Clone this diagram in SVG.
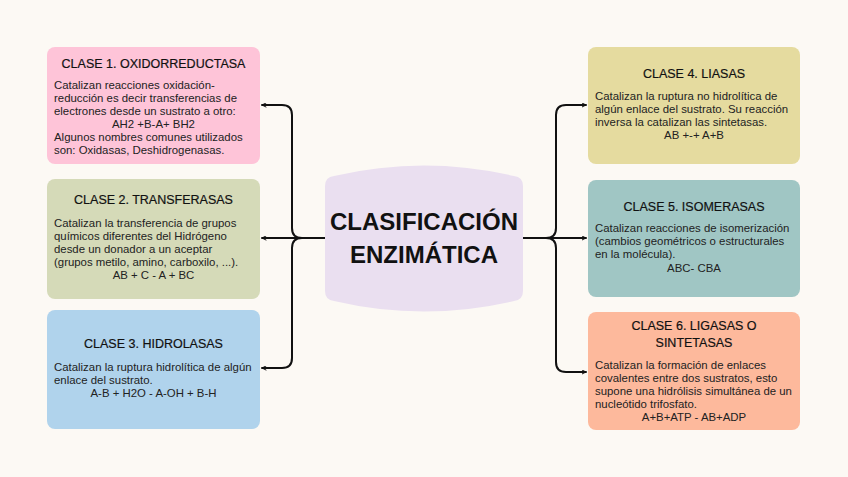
<svg xmlns="http://www.w3.org/2000/svg" width="848" height="477" viewBox="0 0 848 477">
<style>
.t{font-family:"Liberation Sans",Arial,sans-serif;font-size:12.5px;fill:#111;text-anchor:middle;stroke:#111;stroke-width:0.2}
.b{font-family:"Liberation Sans",Arial,sans-serif;font-size:11.4px;fill:#222}
.c{text-anchor:middle}
.h{font-family:"Liberation Sans",Arial,sans-serif;font-size:24px;font-weight:bold;fill:#111;text-anchor:middle}
.ln{fill:none;stroke:#111;stroke-width:2;stroke-linecap:round;stroke-linejoin:round}
</style>
<defs>
<marker id="ah" viewBox="0 0 10 10" refX="9" refY="5" markerWidth="5" markerHeight="5" orient="auto" markerUnits="userSpaceOnUse">
<path d="M1,1 L9,5 L1,9" fill="none" stroke="#111" stroke-width="2" stroke-linecap="round" stroke-linejoin="round"/>
</marker>
</defs>
<rect width="848" height="477" fill="#fcf9f4"/>
<g id="connectors">
<path class="ln" d="M325,238 H262" marker-end="url(#ah)"/>
<path class="ln" d="M302,238 Q292,238 292,228 V115 Q292,105 282,105 H262" marker-end="url(#ah)"/>
<path class="ln" d="M302,238 Q292,238 292,248 V358 Q292,368 282,368 H262" marker-end="url(#ah)"/>
<path class="ln" d="M523,238 H586" marker-end="url(#ah)"/>
<path class="ln" d="M546,238 Q556,238 556,228 V115 Q556,105 566,105 H586" marker-end="url(#ah)"/>
<path class="ln" d="M546,238 Q556,238 556,248 V362 Q556,372 566,372 H586" marker-end="url(#ah)"/>
</g>
<g id="center">
<path d="M325,186 Q325,177 334,176 Q424,155 514,176 Q523,177 523,186 V291 Q523,300 514,301 Q424,322 334,301 Q325,300 325,291 Z" fill="#eadff0"/>
<text class="h" x="424" y="230">CLASIFICACIÓN</text>
<text class="h" x="424" y="263">ENZIMÁTICA</text>
</g>
<g id="clase1">
<rect x="47" y="47" width="213" height="117" rx="8" fill="#fec4d8"/>
<text class="t" x="153.5" y="68">CLASE 1. OXIDORREDUCTASA</text>
<text class="b" x="54" y="89">Catalizan reacciones oxidación-</text>
<text class="b" x="54" y="102">reducción es decir transferencias de</text>
<text class="b" x="54" y="115">electrones desde un sustrato a otro:</text>
<text class="b c" x="153.5" y="128">AH2 +B-A+ BH2</text>
<text class="b" x="54" y="141">Algunos nombres comunes utilizados</text>
<text class="b" x="54" y="154">son: Oxidasas, Deshidrogenasas.</text>
</g>
<g id="clase2">
<rect x="47" y="179" width="213" height="120" rx="8" fill="#d5dab8"/>
<text class="t" x="153.5" y="204">CLASE 2. TRANSFERASAS</text>
<text class="b" x="54" y="227">Catalizan la transferencia de grupos</text>
<text class="b" x="54" y="240">químicos diferentes del Hidrógeno</text>
<text class="b" x="54" y="253">desde un donador a un aceptar</text>
<text class="b" x="54" y="266">(grupos metilo, amino, carboxilo, ...).</text>
<text class="b c" x="153.5" y="279">AB + C - A + BC</text>
</g>
<g id="clase3">
<rect x="47" y="310" width="213" height="119" rx="8" fill="#b0d3ec"/>
<text class="t" x="153.5" y="348">CLASE 3. HIDROLASAS</text>
<text class="b" x="54" y="371">Catalizan la ruptura hidrolítica de algún</text>
<text class="b" x="54" y="384">enlace del sustrato.</text>
<text class="b c" x="153.5" y="397">A-B + H2O - A-OH + B-H</text>
</g>
<g id="clase4">
<rect x="588" y="47" width="212" height="117" rx="8" fill="#e5db9f"/>
<text class="t" x="694" y="78">CLASE 4. LIASAS</text>
<text class="b" x="595" y="100">Catalizan la ruptura no hidrolítica de</text>
<text class="b" x="595" y="113">algún enlace del sustrato. Su reacción</text>
<text class="b" x="595" y="126">inversa la catalizan las sintetasas.</text>
<text class="b c" x="694" y="139">AB +-+ A+B</text>
</g>
<g id="clase5">
<rect x="588" y="180" width="212" height="117" rx="8" fill="#a0c6c4"/>
<text class="t" x="694" y="211">CLASE 5. ISOMERASAS</text>
<text class="b" x="595" y="232">Catalizan reacciones de isomerización</text>
<text class="b" x="595" y="245">(cambios geométricos o estructurales</text>
<text class="b" x="595" y="258">en la molécula).</text>
<text class="b c" x="694" y="272">ABC- CBA</text>
</g>
<g id="clase6">
<rect x="588" y="312" width="212" height="118" rx="8" fill="#fdb99c"/>
<text class="t" x="694" y="330">CLASE 6. LIGASAS O</text>
<text class="t" x="694" y="347">SINTETASAS</text>
<text class="b" x="595" y="369">Catalizan la formación de enlaces</text>
<text class="b" x="595" y="382">covalentes entre dos sustratos, esto</text>
<text class="b" x="595" y="395">supone una hidrólisis simultánea de un</text>
<text class="b" x="595" y="408">nucleótido trifosfato.</text>
<text class="b c" x="694" y="421">A+B+ATP - AB+ADP</text>
</g>
</svg>
